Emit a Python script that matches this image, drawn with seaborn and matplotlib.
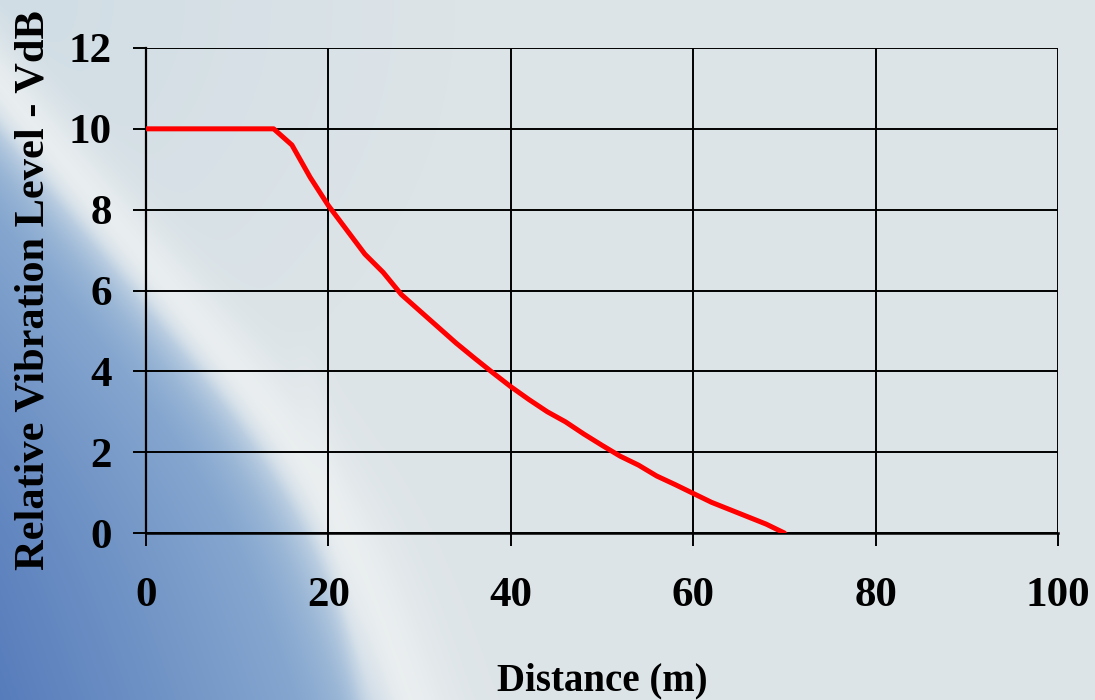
import numpy as np
import pandas as pd
import matplotlib
matplotlib.use("Agg")
import matplotlib.pyplot as plt
import seaborn as sns

distance = [0, 2, 4, 6, 8, 10, 12, 14, 16, 18, 20, 22, 24, 26, 28, 30, 32, 34, 36, 38,
            40, 42, 44, 46, 48, 50, 52, 54, 56, 58, 60, 62, 64, 66, 68, 70]
level = [10, 10, 10, 10, 10, 10, 10, 10, 9.6, 8.8, 8.1, 7.5, 6.9, 6.45, 5.9, 5.5, 5.1, 4.7, 4.33, 3.97,
         3.62, 3.3, 3.0, 2.75, 2.45, 2.17, 1.9, 1.68, 1.41, 1.2, 0.98, 0.76, 0.58, 0.4, 0.22, 0.0]
xticks = [0, 20, 40, 60, 80, 100]
yticks = [0, 2, 4, 6, 8, 10, 12]

df = pd.DataFrame({"Distance (m)": distance, "Relative Vibration Level - VdB": level})

sns.set_theme(style="white")
plt.rcParams['font.family'] = ['Liberation Serif', 'DejaVu Serif']
plt.rcParams['font.weight'] = 'bold'

W, H = 1095, 700
fig = plt.figure(figsize=(W / 100, H / 100), dpi=100)

# background: blue region in lower-left bounded by a smooth curved edge
yy, xx = np.mgrid[0:H, 0:W].astype(float)
edge_y = np.array([-400.0, 110.0, 350.0, 430.0, 536.0, 700.0, 1100.0])
edge_x = np.array([-420.0, 0.0, 200.0, 265.0, 330.0, 390.0, 520.0])
yfine = np.arange(-300, H + 300, dtype=float)
xfine = np.interp(yfine, edge_y, edge_x)
k = np.exp(-0.5 * (np.arange(-150, 151) / 50.0) ** 2); k /= k.sum()
xsmooth = np.convolve(xfine, k, mode="same")
xb = xsmooth[300:300 + H][:, None] * np.ones((1, W))
sdist = (xx - xb) * 0.75          # >0 outside (light), <0 inside (blue)
light = np.array([0.870, 0.897, 0.910])
light_tl = np.array([0.815, 0.865, 0.895])
edge_blue = np.array([0.66, 0.76, 0.86])
mid_blue = np.array([0.52, 0.65, 0.81])
deep_blue = np.array([0.31, 0.46, 0.72])
white = np.array([0.925, 0.94, 0.945])
depth = np.clip(-sdist, 0, None)[..., None]
t1 = np.clip(depth / 70.0, 0, 1)
t2 = np.clip((depth - 70.0) / 260.0, 0, 1)
inside = edge_blue * (1 - t1) + mid_blue * t1
inside = inside * (1 - t2) + deep_blue * t2
tl = np.clip(1 - np.hypot(xx, yy) / 500.0, 0, 1)[..., None]
outside = light * (1 - tl) + light_tl * tl
s = np.clip(sdist / 30.0 + 0.5, 0, 1)[..., None]
img = inside * (1 - s) + outside * s
band = (np.exp(-((sdist - 15) / 32.0) ** 2) * 0.85)[..., None]
img = img * (1 - band) + white * band
# faint near-vertical streak inside the blue
p3 = np.array([300.0, 340.0]); p4 = np.array([370.0, 700.0])
d2 = p4 - p3; n2 = np.array([d2[1], -d2[0]]) / np.hypot(*d2)
sd2 = (xx - p3[0]) * n2[0] + (yy - p3[1]) * n2[1]
fade = np.clip((yy - 330) / 80.0, 0, 1)
band2 = (np.exp(-(sd2 / 14.0) ** 2) * 0.35 * fade)[..., None]
img = img * (1 - band2) + white * band2
bg = fig.add_axes([0, 0, 1, 1], zorder=0)
bg.imshow(np.clip(img, 0, 1), aspect="auto", extent=[0, W, H, 0])
bg.axis("off")

ax = fig.add_axes([146 / W, (H - 533) / H, (1058 - 146) / W, (533 - 48) / H], zorder=1)
ax.patch.set_alpha(0)

sns.lineplot(data=df, x="Distance (m)", y="Relative Vibration Level - VdB", ax=ax,
             color="#ff0000", linewidth=3.6, zorder=3)

ax.set_xlim(0, 100)
ax.set_ylim(0, 12)
ax.set_xticks(xticks)
ax.set_yticks(yticks)
ax.grid(True, color="black", linewidth=1.4)
ax.set_axisbelow(True)
for sp in ax.spines.values():
    sp.set_visible(False)
ax.spines['left'].set_visible(True)
ax.spines['bottom'].set_visible(True)
ax.spines['left'].set_color('black')
ax.spines['bottom'].set_color('black')
ax.spines['left'].set_linewidth(1.6)
ax.spines['bottom'].set_linewidth(1.8)
ax.tick_params(axis='both', direction='out', length=9.5, width=1.4, color='black',
               labelsize=31, labelcolor='black')
ax.tick_params(axis='x', pad=22, bottom=True)
ax.tick_params(axis='y', pad=15, left=True)
for lab in ax.get_xticklabels() + ax.get_yticklabels():
    lab.set_fontweight('bold')

ax.set_xlabel("Distance (m)", fontsize=28, fontweight='bold', color='black', labelpad=34)
ax.set_ylabel("Relative Vibration Level - VdB", fontsize=30.5, fontweight='bold',
              color='black', labelpad=12)

fig.savefig("out.png", dpi=100)
